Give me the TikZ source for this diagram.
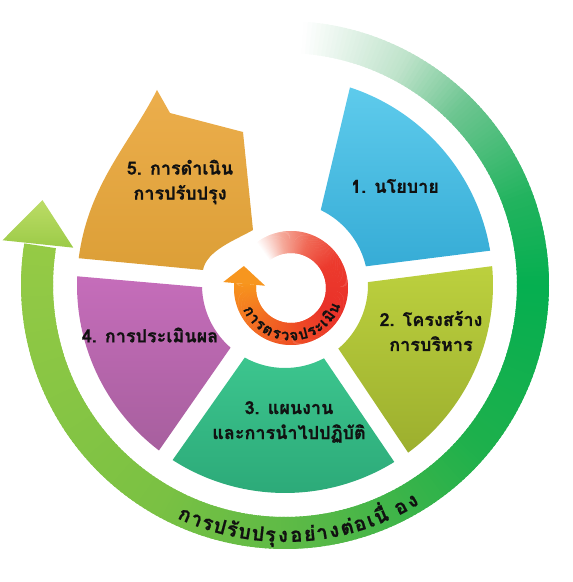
\documentclass[tikz,border=0pt]{standalone}
\usepackage{fontspec}
\newfontfamily\thai[Script=Thai, BoldFeatures={FakeBold=0.8}]{Loma}
\definecolor{txt}{HTML}{111111}
\definecolor{bluetop}{HTML}{5ECBEC}
\definecolor{bluebot}{HTML}{36ACD6}
\definecolor{limetop}{HTML}{BCD03E}
\definecolor{limebot}{HTML}{9CAF2E}
\definecolor{tealtop}{HTML}{3CC58E}
\definecolor{tealbot}{HTML}{2BA877}
\definecolor{purtop}{HTML}{C56DBA}
\definecolor{purbot}{HTML}{A75F9E}
\definecolor{orgtop}{HTML}{ECAE4C}
\definecolor{orgbot}{HTML}{DC9F37}
% green ring stops
\definecolor{gA}{HTML}{FFFFFF}
\definecolor{gB}{HTML}{BFE3CB}
\definecolor{gC}{HTML}{6CC590}
\definecolor{gD}{HTML}{22B35E}
\definecolor{gE}{HTML}{05AF50}
\definecolor{gF}{HTML}{1EB04C}
\definecolor{gG}{HTML}{55B847}
\definecolor{gH}{HTML}{7AC143}
\definecolor{gI}{HTML}{95CA45}
\definecolor{garrowA}{HTML}{9CCB48}
\definecolor{garrowB}{HTML}{BCDC66}
% red ring stops
\definecolor{rA}{HTML}{FFFFFF}
\definecolor{rB}{HTML}{F5A99A}
\definecolor{rC}{HTML}{F06A57}
\definecolor{rD}{HTML}{EC3A2D}
\definecolor{rE}{HTML}{E93129}
\definecolor{rF}{HTML}{EE4B25}
\definecolor{rG}{HTML}{F26A22}
\definecolor{rH}{HTML}{F7941D}
\definecolor{rarrow}{HTML}{F7961F}
\newcommand\gradarc[6]{% start, end, colA, colB, radius, width (clockwise)
  \pgfmathtruncatemacro\gaN{max(1,abs(#2-#1))}%
  \foreach \gak in {1,...,\gaN}{%
    \pgfmathsetmacro\gaS{#1+(#2-#1)*(\gak-1)/\gaN}%
    \pgfmathsetmacro\gaE{#1+(#2-#1)*\gak/\gaN-0.6}%
    \pgfmathsetmacro\gaP{100*(\gak-0.5)/\gaN}%
    \draw[line width=#6, draw=#4!\gaP!#3] (\gaS:#5) arc[start angle=\gaS, end angle=\gaE, radius=#5];
  }%
}
\tikzset{
  lbl/.style={font=\thai\bfseries\fontsize{18}{25}\selectfont, text=txt, align=center, inner sep=0pt},
  ringtxt/.style={font=\thai\bfseries\fontsize{20}{20}\selectfont, text=txt, inner sep=0pt, anchor=base},
  innertxt/.style={font=\thai\bfseries\fontsize{15}{15}\selectfont, text=txt, inner sep=0pt, anchor=base},
}
\begin{document}
\begin{tikzpicture}[x=1pt,y=1pt]
\useasboundingbox (0,0) rectangle (573,582);
% ---------- outer green ring ----------
\begin{scope}[shift={(285,297)}]
  \gradarc{86}{62}{gA}{gB}{248}{32pt}
  \gradarc{62}{45}{gB}{gC}{248}{32pt}
  \gradarc{45}{20}{gC}{gD}{248}{32pt}
  \gradarc{20}{0}{gD}{gE}{248}{32pt}
  \gradarc{0}{-40}{gE}{gF}{248}{32pt}
  \gradarc{-40}{-80}{gF}{gG}{248}{32pt}
  \gradarc{-80}{-120}{gG}{gH}{248}{32pt}
  \gradarc{-120}{-188.5}{gH}{gI}{248}{32pt}
  \shade[bottom color=garrowA, top color=garrowB] (171:286) -- (160.7:257) -- (170:215) -- cycle;
  \foreach \c/\a [count=\i] in {ก/-113.5, า/-110.65, ร/-108.0, ป/-105.1, รั/-102.2, บ/-99.3, ป/-96.2, รุ/-93.35, ง/-90.45, อ/-87.4, ย่/-84.35, า/-81.5, ง/-78.7, ต่/-75.65, อ/-72.6, เ/-70.0, นื่/-67.4, อ/-62.5, ง/-59.5}
    \node[ringtxt, rotate=\a+90] (ot\i) at (\a:257) {\c};
\end{scope}
% ---------- segments ----------
\begin{scope}[shift={(285,297)}]
  \shade[top color=bluetop, bottom color=bluebot] (71.8:208) arc[start angle=71.8, end angle=9.5, radius=208] -- (13:83) arc[start angle=13, end angle=64.5, radius=83] -- cycle;
  \shade[top color=limetop, bottom color=limebot] (5.2:208) arc[start angle=5.2, end angle=-53.7, radius=208] -- (-50:83) arc[start angle=-50, end angle=2, radius=83] -- cycle;
  \shade[top color=tealtop, bottom color=tealbot] (-58.3:208) arc[start angle=-58.3, end angle=-122.7, radius=208] -- (-119:83) arc[start angle=-119, end angle=-62, radius=83] -- cycle;
  \shade[top color=purtop, bottom color=purbot] (232.7:208) arc[start angle=232.7, end angle=177.6, radius=208] -- (181.5:83) arc[start angle=181.5, end angle=229, radius=83] -- cycle;
\end{scope}
\shade[top color=orgtop, bottom color=orgbot] (78.7,323.8) .. controls (88.4,398) and (130,438.6) .. (157,492) -- (170,469) -- (243,450) -- (253,352) .. controls (235.7,342) and (206.6,331.7) .. (203,312) -- cycle;
% ---------- inner red ring ----------
\begin{scope}[shift={(291,294)}]
  \gradarc{127}{100}{rA}{rB}{46}{22pt}
  \gradarc{100}{70}{rB}{rC}{46}{22pt}
  \gradarc{70}{30}{rC}{rD}{46}{22pt}
  \gradarc{30}{-30}{rD}{rE}{46}{22pt}
  \gradarc{-30}{-80}{rE}{rF}{46}{22pt}
  \gradarc{-80}{-130}{rF}{rG}{46}{22pt}
  \gradarc{-130}{-184.5}{rG}{rH}{46}{22pt}
  \fill[rarrow] (175:68) -- (155:52) -- (175:26) -- cycle;
  \foreach \c/\a [count=\i] in {ก/-151.1, า/-140.3, ร/-130.0, ต/-118.8, ร/-107.7, ว/-97.1, จ/-86.6, ป/-75.4, ร/-64.3, ะ/-54.6, เ/-46.4, มิ/-36.7, น/-24.9}
    \node[innertxt, rotate=\a+90] (it\i) at (\a:52.5) {\c};
\end{scope}
% ---------- labels ----------
\node[lbl] (n1) at (395,396) {1. นโยบาย};
\node[lbl] (n2) at (431,251) {2. โครงสร้าง\\การบริหาร};
\node[lbl] (n3) at (289,160) {3. แผนงาน\\และการนำไปปฏิบัติ};
\node[lbl] (n4) at (150,247) {4. การประเมินผล};
\node[lbl] (n5) at (180,400) {5. การดำเนิน\\การปรับปรุง};
\end{tikzpicture}
\end{document}
